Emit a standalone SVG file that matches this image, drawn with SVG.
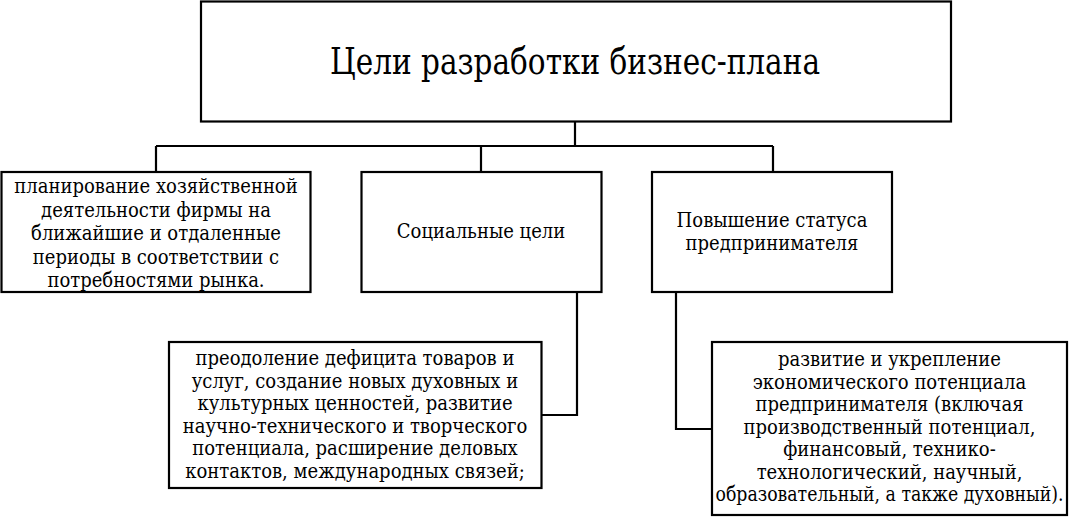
<svg xmlns="http://www.w3.org/2000/svg" width="1084" height="531" viewBox="0 0 1084 531">
<style>
.box{fill:#fff;stroke:#000;stroke-width:2.2}
.t{font-size:20px;fill:#000;text-anchor:middle}
.title{font-size:38px;fill:#000;text-anchor:middle}
.c{fill:none;stroke:#000;stroke-width:2.2}
</style>
<rect width="1084" height="531" fill="#fff"/>
<g id="connectors">
<path class="c" d="M575 122V146M156 146H773M156 146V172M481 146V172M773 146V172"/>
<path class="c" d="M577 292V415H541.5"/>
<path class="c" d="M676 292V429H712"/>
</g>
<g font-family="'DejaVu Serif Condensed', 'DejaVu Serif', serif" font-stretch="condensed">
<g id="root">
<rect class="box" x="201" y="1.5" width="750" height="120"/>
<text class="title" x="575" y="74" textLength="490" lengthAdjust="spacingAndGlyphs">Цели разработки бизнес-плана</text>
</g>
<g id="planning">
<rect class="box" x="1.5" y="172" width="309" height="120"/>
<text class="t" x="156" y="193">планирование хозяйственной</text>
<text class="t" x="156" y="216.5">деятельности фирмы на</text>
<text class="t" x="156" y="240">ближайшие и отдаленные</text>
<text class="t" x="156" y="263.5">периоды в соответствии с</text>
<text class="t" x="156" y="287">потребностями рынка.</text>
</g>
<g id="social">
<rect class="box" x="361.5" y="172" width="240" height="120"/>
<text class="t" x="481" y="238">Социальные цели</text>
</g>
<g id="status">
<rect class="box" x="652" y="172" width="240" height="120"/>
<text class="t" x="772" y="227">Повышение статуса</text>
<text class="t" x="772" y="250">предпринимателя</text>
</g>
<g id="social-detail">
<rect class="box" x="169" y="342" width="372.5" height="146"/>
<text class="t" x="355" y="365">преодоление дефицита товаров и</text>
<text class="t" x="355" y="387.5">услуг, создание новых духовных и</text>
<text class="t" x="355" y="410">культурных ценностей, развитие</text>
<text class="t" x="355" y="432.5">научно-технического и творческого</text>
<text class="t" x="355" y="455">потенциала, расширение деловых</text>
<text class="t" x="355" y="477.5">контактов, международных связей;</text>
</g>
<g id="status-detail">
<rect class="box" x="712" y="342" width="355" height="173"/>
<text class="t" x="889.5" y="366">развитие и укрепление</text>
<text class="t" x="889.5" y="388.5">экономического потенциала</text>
<text class="t" x="889.5" y="411">предпринимателя (включая</text>
<text class="t" x="889.5" y="433.5">производственный потенциал,</text>
<text class="t" x="889.5" y="456">финансовый, технико-</text>
<text class="t" x="889.5" y="478.5">технологический, научный,</text>
<text class="t" x="889.5" y="501" textLength="348" lengthAdjust="spacingAndGlyphs">образовательный, а также духовный).</text>
</g>
</g>
</svg>
